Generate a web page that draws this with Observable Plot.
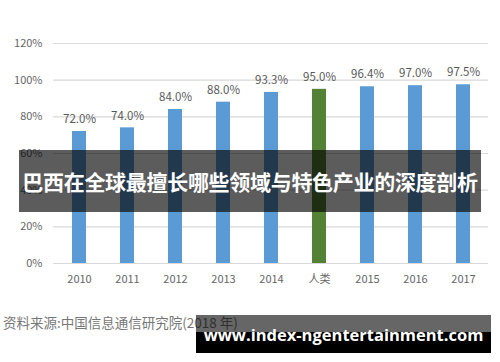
<!DOCTYPE html>
<html><head><meta charset="utf-8">
<script src="https://cdn.jsdelivr.net/npm/d3@7"></script>
<script src="https://cdn.jsdelivr.net/npm/@observablehq/plot@0.6"></script>
<style>
html,body{margin:0;padding:0;background:#fff;}
#wrap{position:relative;width:500px;height:362px;overflow:hidden;font-family:"Noto Sans CJK SC","Noto Sans",sans-serif;}
#chart{position:absolute;left:0;top:0;}
#banner{position:absolute;left:19px;top:150px;width:462px;height:62px;background:rgba(0,0,0,0.64);color:#fff;font-weight:bold;font-size:21px;line-height:62px;text-align:center;white-space:nowrap;letter-spacing:-0.3px;}
#source{position:absolute;left:3px;top:312px;font-size:13.5px;color:#777;white-space:nowrap;}
#wm1{position:absolute;left:196px;top:315px;width:295px;height:17px;background:rgba(0,0,0,0.6);}
#wm2{position:absolute;left:196px;top:332px;width:295px;height:21px;background:#000;}
#wmtext{position:absolute;left:196px;top:324px;width:295px;text-align:center;color:#fff;font-family:"Open Sans",sans-serif;font-weight:bold;font-size:16.5px;line-height:22px;white-space:nowrap;}
</style></head>
<body>
<div id="wrap">
<div id="chart"></div>
<div id="banner">巴西在全球最擅长哪些领域与特色产业的深度剖析</div>
<div id="source">资料来源:中国信息通信研究院(2018 年)</div>
<div id="wm1"></div><div id="wm2"></div>
<div id="wmtext">www.index-ngentertainment.com</div>
</div>
<script>
const categories = ["2010","2011","2012","2013","2014","人类","2015","2016","2017"];
const values = [72.0, 74.0, 84.0, 88.0, 93.3, 95.0, 96.4, 97.0, 97.5];
const highlight = ["人类"];
const yTicks = [0,20,40,60,80,100,120];

const data = categories.map((c,i)=>({cat:c, v:values[i], hl: highlight.includes(c)}));

const chart = Plot.plot({
  width: 500, height: 300,
  marginLeft: 53, marginRight: 12, marginTop: 43, marginBottom: 37,
  style: {fontFamily: '"Noto Sans CJK SC","Noto Sans",sans-serif', fontSize: "11px", color: "#666", background: "transparent"},
  x: {domain: categories, paddingInner: 0.71, paddingOuter: 0.355, label: null, tickSize: 0, tickPadding: 12},
  y: {domain: [0,120], ticks: yTicks, tickFormat: d => d + "%", label: null, tickSize: 0, tickPadding: 11},
  marks: [
    Plot.ruleY(yTicks, {stroke: "#d9d9d9", strokeWidth: 1.2}),
    Plot.barY(data, {x: "cat", y: "v", fill: d => d.hl ? "#538135" : "#5b9bd5"}),
    Plot.text(data, {x: "cat", y: "v", text: d => d.v.toFixed(1) + "%", dy: -12, fill: "#595959", fontSize: 11.5})
  ]
});
document.getElementById("chart").appendChild(chart);
</script>
</body></html>
